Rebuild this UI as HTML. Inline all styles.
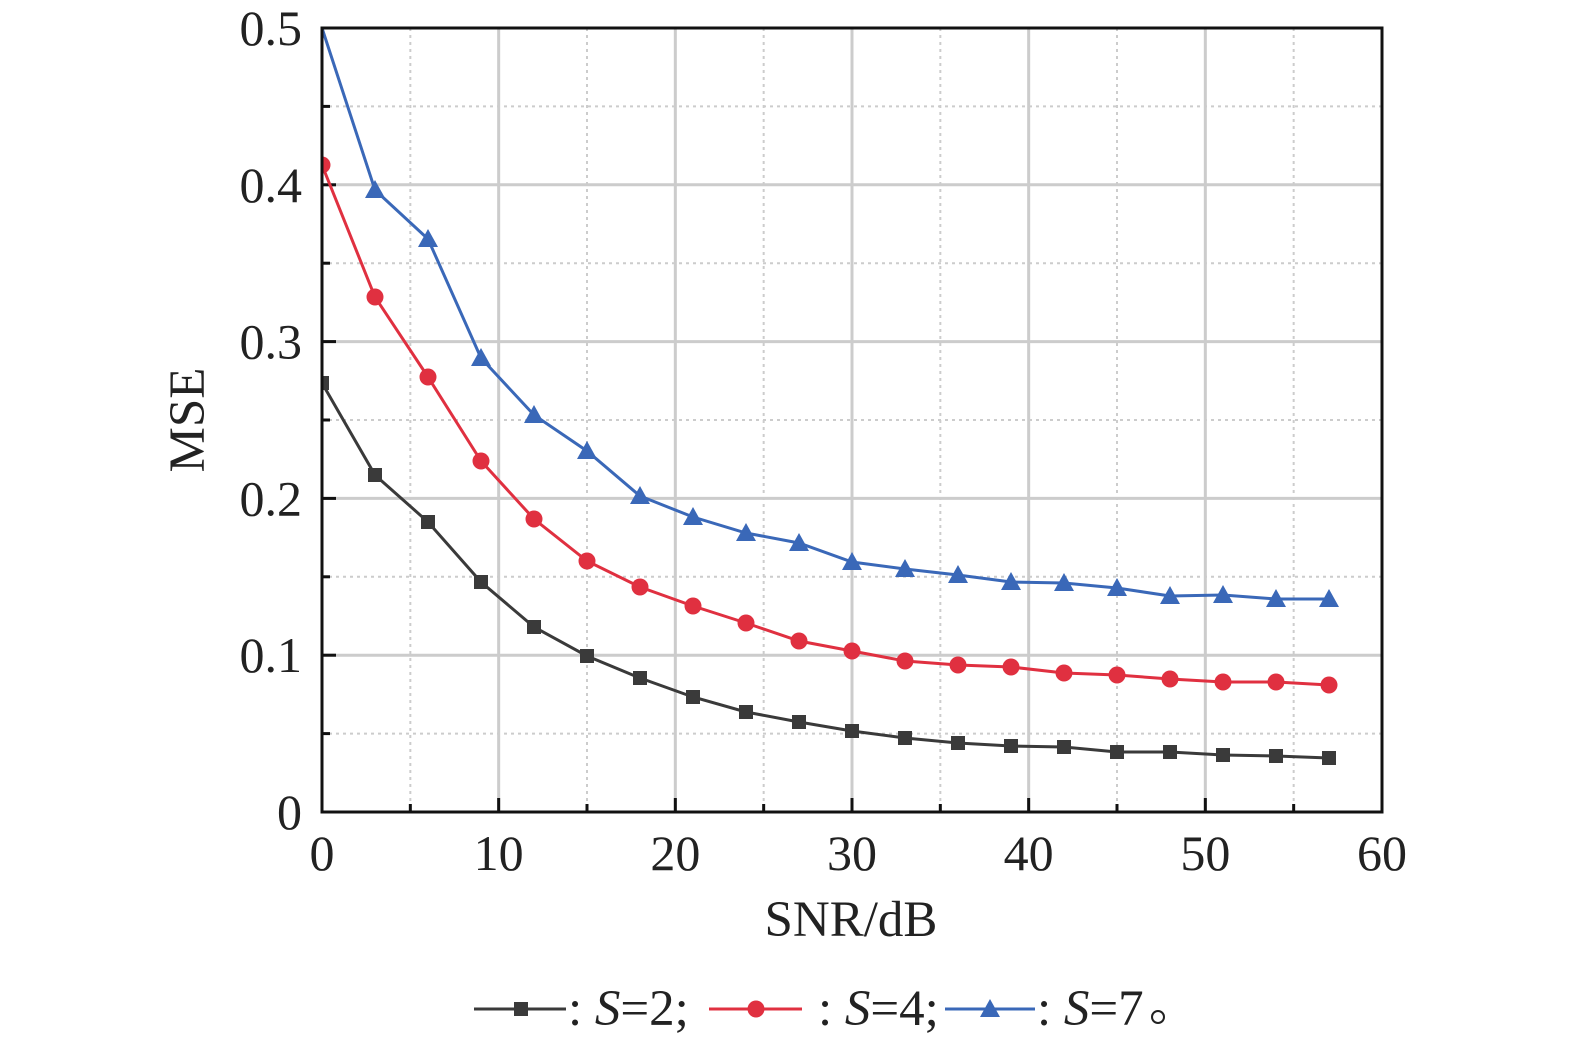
<!DOCTYPE html>
<html><head><meta charset="utf-8"><style>body{margin:0;background:#fff}svg{display:block}</style></head>
<body>
<svg id="s" width="1575" height="1044" xmlns="http://www.w3.org/2000/svg" font-family="Liberation Serif, serif"></svg>
<script>
const s=document.getElementById('s');
let h='<defs><clipPath id="c"><rect x="322" y="28" width="1060" height="784"/></clipPath></defs>';
const X=v=>322+v*1060/60, Y=v=>812-v*1568;
for(let i=5;i<60;i+=5){const x=X(i);h+=`<line x1="${x}" y1="28" x2="${x}" y2="812" stroke="#ccc" stroke-width="${i%10?2:3}" ${i%10?'stroke-dasharray="3,4"':''}/>`;}
for(let i=1;i<10;i++){const y=Y(i*0.05);h+=`<line x1="322" y1="${y}" x2="1382" y2="${y}" stroke="#ccc" stroke-width="${i%2?2:3}" ${i%2?'stroke-dasharray="3,4"':''}/>`;}
for(let i=1;i<12;i++){const x=X(i*5);const L=i%2?8:14;h+=`<line x1="${x}" y1="812" x2="${x}" y2="${812-L}" stroke="#111" stroke-width="3"/>`;}
for(let i=1;i<10;i++){const y=Y(i*0.05);const L=i%2?8:14;h+=`<line x1="322" y1="${y}" x2="${322+L}" y2="${y}" stroke="#111" stroke-width="3"/>`;}
for(let i=0;i<=6;i++)h+=`<text x="${X(i*10)}" y="870" font-size="50" text-anchor="middle" fill="#222">${i*10}</text>`;
['0','0.1','0.2','0.3','0.4','0.5'].forEach((t,i)=>h+=`<text x="302" y="${Y(i*0.1)+17}" font-size="50" text-anchor="end" fill="#222">${t}</text>`);
h+=`<text x="851" y="936" font-size="51" text-anchor="middle" fill="#222">SNR/dB</text>`;
h+=`<text transform="translate(204,420) rotate(-90)" font-size="51" text-anchor="middle" fill="#222">MSE</text>`;
const b=[383,475,522,582,627,656,678,697,712,722,731,738,743,746,747,752,752,755,756,758];
const r=[165,297,377,461,519,561,587,606,623,641,651,661,665,667,673,675,679,682,682,685];
const u=[28,190,239,358,415,451,496,517,533,543,562,569,575,582,583,588,596,595,599,599];
function mk(x,y,c,m){if(m==0)return `<rect x="${x-7}" y="${y-7}" width="14" height="14" fill="${c}"/>`;if(m==1)return `<circle cx="${x}" cy="${y}" r="8.5" fill="${c}"/>`;return `<polygon points="${x},${y-10} ${x-10},${y+8} ${x+10},${y+8}" fill="${c}"/>`;}
function ser(d,c,m){let p=d.map((y,i)=>`${X(i*3).toFixed(1)},${y}`).join(' ');h+=`<g clip-path="url(#c)"><polyline points="${p}" fill="none" stroke="${c}" stroke-width="3"/>`;d.forEach((y,i)=>{if(!(m==2&&i==0))h+=mk(X(i*3),y,c,m)});h+='</g>';}
ser(b,'#3a3a3a',0);ser(r,'#e03040',1);ser(u,'#3a68b8',2);
h+=`<rect x="322" y="28" width="1060" height="784" fill="none" stroke="#111" stroke-width="3"/>`;
const ly=1009;
h+=`<line x1="474" y1="${ly}" x2="566" y2="${ly}" stroke="#3a3a3a" stroke-width="3"/>`+mk(521,ly,'#3a3a3a',0);
h+=`<line x1="709" y1="${ly}" x2="802" y2="${ly}" stroke="#e03040" stroke-width="3"/>`+mk(756,ly,'#e03040',1);
h+=`<line x1="945" y1="${ly}" x2="1035" y2="${ly}" stroke="#3a68b8" stroke-width="3"/>`+mk(990,ly,'#3a68b8',2);
const T=(x,t)=>`<text x="${x}" y="1025" font-size="51" fill="#222">${t}</text>`;
h+=T(568,': <tspan font-style="italic">S</tspan>=2;');
h+=T(818,': <tspan font-style="italic">S</tspan>=4;');
h+=T(1037,': <tspan font-style="italic">S</tspan>=7');
h+=`<circle cx="1158" cy="1017" r="6" fill="none" stroke="#222" stroke-width="2"/>`;
s.innerHTML=h;
</script>
</body></html>
